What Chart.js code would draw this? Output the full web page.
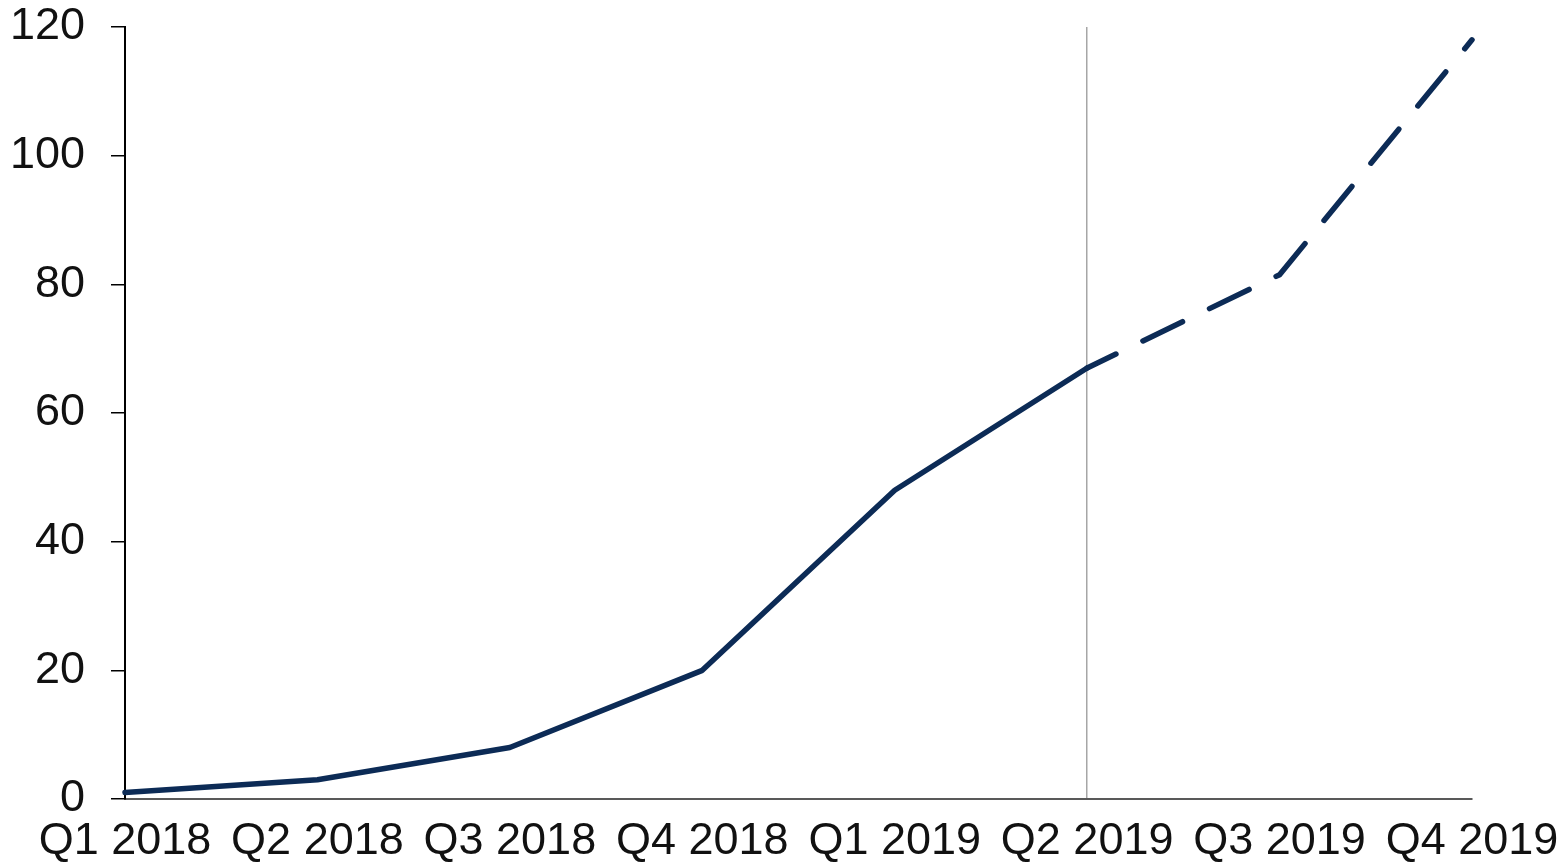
<!DOCTYPE html>
<html>
<head>
<meta charset="utf-8">
<script src="https://cdn.jsdelivr.net/npm/chart.js@4/dist/chart.umd.min.js"></script>
<style>
  html, body { margin: 0; padding: 0; background: #fff; }
  #wrap { width: 1562px; height: 862px; }
</style>
</head>
<body>
<div id="wrap"><canvas id="growth-chart"></canvas></div>
<script>
const quarters = ['Q1 2018', 'Q2 2018', 'Q3 2018', 'Q4 2018', 'Q1 2019', 'Q2 2019', 'Q3 2019', 'Q4 2019'];
const values = [1, 3, 8, 20, 48, 67, 81.5, 118];
// last actual quarter; everything after it is a forecast and drawn dashed
const lastActual = 5;

const navy = '#0c2b56';
const font = {family: '"Liberation Sans", Arial, sans-serif', size: 45};

new Chart(document.getElementById('growth-chart'), {
    type: 'line',
    data: {
        labels: quarters,
        datasets: [{
            data: values,
            borderColor: navy,
            borderWidth: 5.5,
            borderCapStyle: 'round',
            borderJoinStyle: 'round',
            pointRadius: 0,
            tension: 0,
            fill: false,
            clip: false,
            segment: {
                borderDash: ctx => ctx.p0DataIndex >= lastActual ? [44, 30] : undefined,
                borderDashOffset: ctx => ctx.p0DataIndex >= lastActual ? 12 : undefined
            }
        }]
    },
    options: {
        responsive: true,
        maintainAspectRatio: false,
        animation: false,
        layout: {
            padding: {left: 0, right: 90, top: 27, bottom: 0}
        },
        plugins: {
            legend: {display: false},
            tooltip: {enabled: false}
        },
        scales: {
            x: {
                offset: false,
                afterFit: scale => {
                    scale.height = 63;
                    scale.paddingLeft = 0;
                    scale.paddingRight = 0;
                },
                border: {display: true, color: '#595959', width: 2},
                grid: {
                    drawTicks: false,
                    color: ctx => ctx.index === lastActual ? '#a6a6a6' : 'rgba(0,0,0,0)',
                    lineWidth: 1.5
                },
                ticks: {
                    color: '#111',
                    font: font,
                    padding: 16,
                    maxRotation: 0,
                    autoSkip: false
                }
            },
            y: {
                min: 0,
                max: 120,
                afterFit: scale => {
                    scale.width = 125;
                    scale.paddingTop = 0;
                    scale.paddingBottom = 0;
                },
                border: {display: true, color: '#000', width: 2},
                grid: {
                    drawOnChartArea: false,
                    drawTicks: true,
                    tickLength: 14,
                    tickColor: '#000',
                    lineWidth: 1.5
                },
                ticks: {
                    stepSize: 20,
                    color: '#111',
                    font: font,
                    padding: 26
                }
            }
        }
    }
});
</script>
</body>
</html>
